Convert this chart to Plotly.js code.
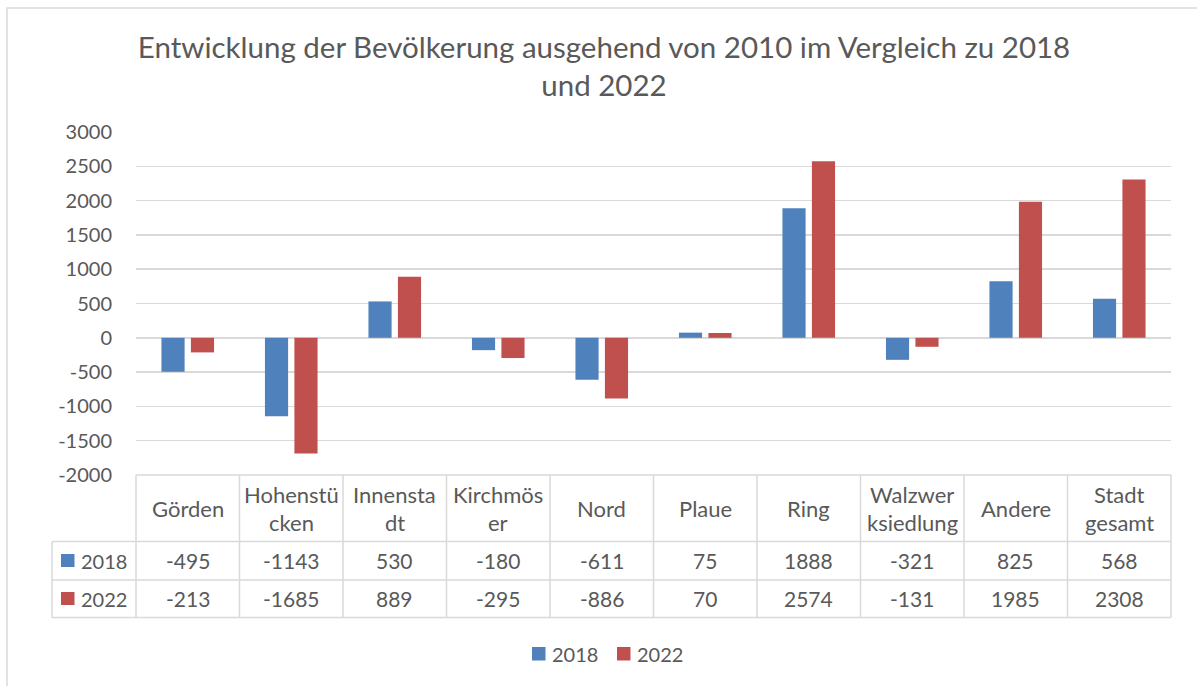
<!DOCTYPE html>
<html>
<head>
<meta charset="utf-8">
<script src="https://cdn.plot.ly/plotly-3.0.1.min.js"></script>
<style>html,body{margin:0;padding:0;background:#fff;}#chart{width:1197px;height:686px;}</style>
</head>
<body>
<div id="chart"></div>
<script>
// ---- data ----
const categories = ['Görden','Hohenstücken','Innenstadt','Kirchmöser','Nord','Plaue','Ring','Walzwerksiedlung','Andere','Stadt gesamt'];
const headerLines = [['Görden'],['Hohenstü','cken'],['Innensta','dt'],['Kirchmös','er'],['Nord'],['Plaue'],['Ring'],['Walzwer','ksiedlung'],['Andere'],['Stadt','gesamt']];
const seriesNames = ['2018','2022'];
const values2018 = [-495,-1143,530,-180,-611,75,1888,-321,825,568];
const values2022 = [-213,-1685,889,-295,-886,70,2574,-131,1985,2308];
const yTickValues = [-2000,-1500,-1000,-500,0,500,1000,1500,2000,2500,3000];
const yTickLabels = yTickValues.map(String);
const seriesColors = ['#4f81bd','#c0504d'];
const titleText = 'Entwicklung der Bevölkerung ausgehend von 2010 im Vergleich zu 2018<br>und 2022';

// ---- geometry helpers (pixel -> paper) ----
const W = 1197, H = 686;
const L = 136, R = 1171, T = 132, B = 475;
const px = x => (x - L) / (R - L);
const py = y => (B - y) / (B - T);
const gridCol = '#d9d9d9';
const textCol = '#595959';
const FONT = 'Lato, "Open Sans", sans-serif';
const NUM = 20, HDR = 22;

const allValues = [values2018, values2022];
const traces = allValues.map((vals, i) => ({
  type: 'bar',
  name: seriesNames[i],
  x: categories,
  y: vals,
  marker: {color: seriesColors[i], line: {width: 0}},
  hoverinfo: 'x+y+name'
}));

const shapes = [];
const annotations = [];
const line = (x0, y0, x1, y1) => shapes.push({type:'line', xref:'paper', yref:'paper',
  x0: px(x0), y0: py(y0), x1: px(x1), y1: py(y1), line:{color:gridCol, width:1.5}, layer:'above'});

// chart border
shapes.push({type:'rect', xref:'paper', yref:'paper', x0:px(7), y0:py(8), x1:px(1205), y1:py(700),
  line:{color:gridCol, width:1.5}, layer:'below'});

// table grid
const colW = (R - L) / categories.length;
line(L, 475, R, 475);
[541.5, 580, 617.5].forEach(y => line(52, y, R, y));
line(52, 541.5, 52, 617.5);
for (let k = 0; k <= categories.length; k++) line(L + k * colW, 475, L + k * colW, 617.5);

// header labels
const lineGap = 28;
categories.forEach((c, i) => {
  const lines = headerLines[i];
  const yc = 508.5;
  lines.forEach((t, j) => {
    const y = yc + (j - (lines.length - 1) / 2) * lineGap;
    annotations.push({xref:'x', yref:'paper', x:c, y:py(y), text:t, showarrow:false,
      xanchor:'center', yanchor:'middle', font:{size:HDR, color:textCol, family:FONT}});
  });
});

// value rows
const rowCenters = [560.5, 598.5];
allValues.forEach((vals, r) => {
  vals.forEach((v, i) => {
    annotations.push({xref:'x', yref:'paper', x:categories[i], y:py(rowCenters[r]), text:String(v), showarrow:false,
      xanchor:'center', yanchor:'middle', font:{size:NUM + 1, color:textCol, family:FONT}});
  });
  // row header key + label
  shapes.push({type:'rect', xref:'paper', yref:'paper', x0:px(61), x1:px(74.5), y0:py(rowCenters[r]-6.5), y1:py(rowCenters[r]+6.5),
    fillcolor:seriesColors[r], line:{width:0}, layer:'above'});
  annotations.push({xref:'paper', yref:'paper', x:px(79), y:py(rowCenters[r]), text:seriesNames[r], showarrow:false,
    xanchor:'left', yanchor:'middle', font:{size:NUM, color:textCol, family:FONT}});
});

// legend (drawn manually to match spacing)
const legendX = [532, 617];
seriesNames.forEach((n, i) => {
  shapes.push({type:'rect', xref:'paper', yref:'paper', x0:px(legendX[i]), x1:px(legendX[i] + 13.5), y0:py(647), y1:py(660.5),
    fillcolor:seriesColors[i], line:{width:0}, layer:'above'});
  annotations.push({xref:'paper', yref:'paper', x:px(legendX[i] + 18), y:py(653.5), text:n, showarrow:false,
    xanchor:'left', yanchor:'middle', font:{size:NUM, color:textCol, family:FONT}});
});

const layout = {
  width: W, height: H,
  margin: {l: L, r: W - R, t: T, b: H - B, pad: 0},
  paper_bgcolor: '#ffffff', plot_bgcolor: '#ffffff',
  font: {family: FONT, color: textCol, size: 18},
  title: {text: titleText, xref:'container', yref:'container', x: 604 / W, y: 1 - 58 / H,
    xanchor:'center', yanchor:'top', font:{size: 29.5, color: textCol, family: FONT}},
  barmode: 'group',
  bargap: 0.431,
  bargroupgap: 0.214,
  xaxis: {showticklabels:false, showgrid:false, zeroline:false, showline:false, ticks:'', fixedrange:true},
  yaxis: {range:[-2000, 3000], tickvals: yTickValues, ticktext: yTickLabels, showgrid:true, gridcolor:gridCol, gridwidth:1.5,
    zeroline:true, zerolinecolor:gridCol, zerolinewidth:1.5, showline:false, ticks:'', ticklabelstandoff: 23,
    tickfont:{size:NUM, color:textCol, family:FONT}, fixedrange:true},
  showlegend: false,
  shapes: shapes,
  annotations: annotations
};

Plotly.newPlot('chart', traces, layout, {displayModeBar:false, staticPlot:true});
</script>
</body>
</html>
